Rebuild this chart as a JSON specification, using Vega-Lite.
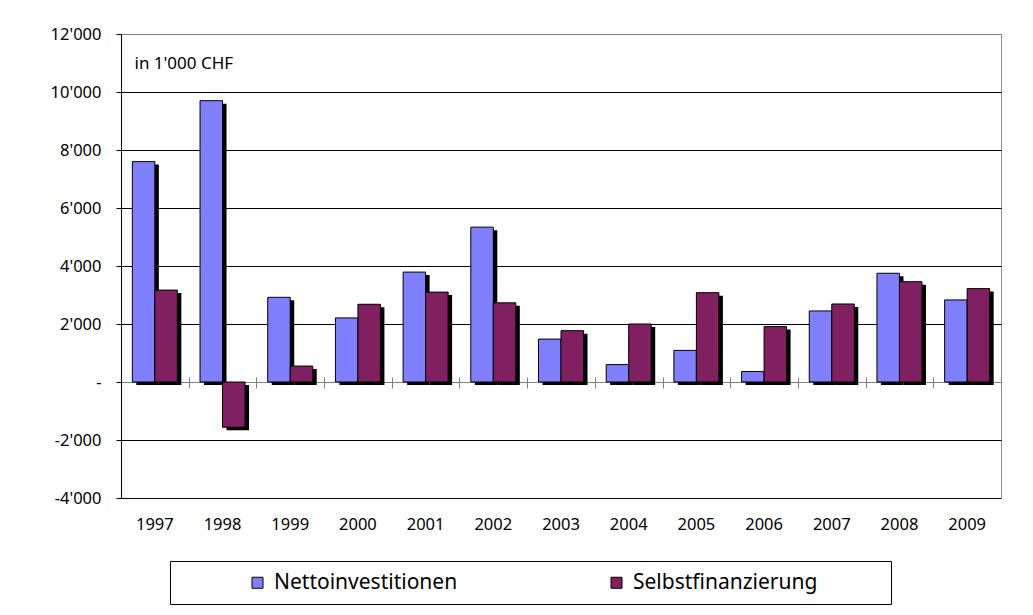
{
  "$schema": "https://vega.github.io/schema/vega-lite/v6.json",
  "width": 880,
  "height": 464,
  "autosize": {"type": "none"},
  "padding": {"left": 121, "top": 34, "right": 32, "bottom": 117},
  "background": "#ffffff",
  "data": {
    "values": [
      {"year": "1997", "series": "Nettoinvestitionen", "value": 7600},
      {"year": "1997", "series": "Selbstfinanzierung", "value": 3170},
      {"year": "1998", "series": "Nettoinvestitionen", "value": 9700},
      {"year": "1998", "series": "Selbstfinanzierung", "value": -1560},
      {"year": "1999", "series": "Nettoinvestitionen", "value": 2920},
      {"year": "1999", "series": "Selbstfinanzierung", "value": 550},
      {"year": "2000", "series": "Nettoinvestitionen", "value": 2210},
      {"year": "2000", "series": "Selbstfinanzierung", "value": 2680},
      {"year": "2001", "series": "Nettoinvestitionen", "value": 3790},
      {"year": "2001", "series": "Selbstfinanzierung", "value": 3100},
      {"year": "2002", "series": "Nettoinvestitionen", "value": 5340},
      {"year": "2002", "series": "Selbstfinanzierung", "value": 2730},
      {"year": "2003", "series": "Nettoinvestitionen", "value": 1480},
      {"year": "2003", "series": "Selbstfinanzierung", "value": 1770},
      {"year": "2004", "series": "Nettoinvestitionen", "value": 600},
      {"year": "2004", "series": "Selbstfinanzierung", "value": 2000},
      {"year": "2005", "series": "Nettoinvestitionen", "value": 1090},
      {"year": "2005", "series": "Selbstfinanzierung", "value": 3080},
      {"year": "2006", "series": "Nettoinvestitionen", "value": 360},
      {"year": "2006", "series": "Selbstfinanzierung", "value": 1910},
      {"year": "2007", "series": "Nettoinvestitionen", "value": 2450},
      {"year": "2007", "series": "Selbstfinanzierung", "value": 2690},
      {"year": "2008", "series": "Nettoinvestitionen", "value": 3750},
      {"year": "2008", "series": "Selbstfinanzierung", "value": 3460},
      {"year": "2009", "series": "Nettoinvestitionen", "value": 2830},
      {"year": "2009", "series": "Selbstfinanzierung", "value": 3220}
    ]
  },
  "config": {
    "view": {"stroke": "#8c8c8c", "strokeWidth": 1},
    "font": "Noto Sans",
    "axis": {"labelFont": "Noto Sans", "titleFont": "Noto Sans", "labelColor": "#000000", "titleColor": "#000000"}
  },
  "encoding": {
    "y": {
      "field": "value", "type": "quantitative",
      "scale": {"domain": [-4000, 12000], "nice": false},
      "axis": {
        "values": [-4000, -2000, 0, 2000, 4000, 6000, 8000, 10000, 12000],
        "labelExpr": "datum.value === 0 ? '-\u00a0\u00a0\u00a0\u00a0' : replace(replace(format(datum.value, ','), ',', \"'\"), '\u2212', '-')",
        "labelFontSize": 16.5,
        "labelPadding": 15,
        "tickSize": 5,
        "tickColor": "#000000",
        "domainColor": "#000000",
        "grid": true,
        "gridColor": {"condition": {"test": "datum.value === 0 || datum.value === 12000", "value": "#808080"}, "value": "#000000"},
        "gridWidth": 1,
        "title": "in 1'000 CHF",
        "titleAngle": 0,
        "titleX": 13,
        "titleY": 34,
        "titleAlign": "left",
        "titleBaseline": "alphabetic",
        "titleFontWeight": "normal",
        "titleFontSize": 17
      }
    }
  },
  "layer": [
    {
      "mark": {"type": "bar", "color": "#000000", "yOffset": 3, "y2Offset": 3},
      "encoding": {
        "x": {
          "field": "year", "type": "ordinal",
          "scale": {"paddingInner": 0, "paddingOuter": 0},
          "axis": {"orient": "top", "offset": -354, "labels": false, "domain": false, "ticks": true, "tickSize": 11, "tickColor": "#808080", "tickBand": "extent", "grid": false, "title": null}
        },
        "xOffset": {
          "field": "series", "type": "nominal",
          "sort": ["Nettoinvestitionen", "Selbstfinanzierung"],
          "scale": {"paddingOuter": 0.504, "paddingInner": 0, "range": [4, 71.6923]}
        }
      }
    },
    {
      "mark": {"type": "bar", "stroke": "#000000", "strokeWidth": 1},
      "encoding": {
        "x": {
          "field": "year", "type": "ordinal",
          "scale": {"paddingInner": 0, "paddingOuter": 0},
          "axis": {"orient": "bottom", "domain": false, "ticks": false, "grid": false, "labelPadding": 18, "labelFontSize": 16.5, "labelAngle": 0, "title": null}
        },
        "xOffset": {
          "field": "series", "type": "nominal",
          "sort": ["Nettoinvestitionen", "Selbstfinanzierung"],
          "scale": {"paddingOuter": 0.504, "paddingInner": 0}
        },
        "color": {
          "field": "series", "type": "nominal",
          "scale": {"domain": ["Nettoinvestitionen", "Selbstfinanzierung"], "range": ["#8080FF", "#802060"]},
          "legend": {
            "orient": "none",
            "legendX": 49,
            "legendY": 527,
            "direction": "horizontal",
            "title": "\u00a0",
            "titleOrient": "right",
            "titlePadding": 63,
            "titleFontSize": 1,
            "padding": 11,
            "strokeColor": "#000000",
            "fillColor": "#ffffff",
            "symbolType": "square",
            "symbolSize": 121,
            "symbolStrokeColor": "#000000",
            "symbolStrokeWidth": 1,
            "symbolOffset": 66,
            "labelFont": "Noto Sans",
            "labelFontSize": 21,
            "labelColor": "#000000",
            "labelOffset": 6,
            "labelLimit": 600,
            "columnPadding": 82
          }
        }
      }
    }
  ],
  "resolve": {"scale": {"xOffset": "independent"}, "axis": {"x": "independent"}}
}
